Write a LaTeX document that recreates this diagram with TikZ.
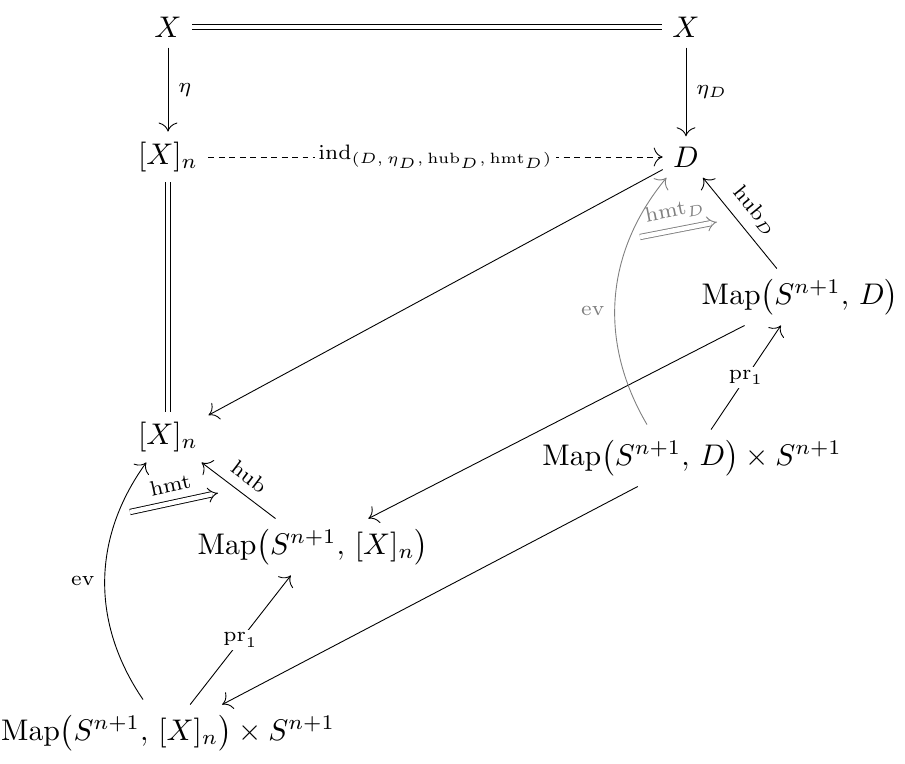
\documentclass[tikz,border=0pt]{standalone}
\usepackage{amsmath}
\usetikzlibrary{arrows.meta}
\begin{document}
\begin{tikzpicture}[x=0.335pt,y=-0.335pt,
  ar/.style={-{To[length=3pt]},line width=0.3pt},
  dbl/.style={double,double distance=1.5pt,line width=0.3pt},
  dblar/.style={double,double distance=1.5pt,line width=0.3pt,-{Implies}},
  lb/.style={font=\scriptsize,fill=white,inner sep=1pt}]
\useasboundingbox (0,0) rectangle (905,764);
\node (X1) at (168,27) {$X$};
\node (X2) at (686,27) {$X$};
\node (Xn) at (168,157) {$[X]_n$};
\node (D) at (686,157) {$D$};
\node (Xn2) at (168,437) {$[X]_n$};
\node (MD) at (800,297) {$\operatorname{Map}\bigl(S^{n+1},\,D\bigr)$};
\node (MDS) at (692,458) {$\operatorname{Map}\bigl(S^{n+1},\,D\bigr)\times S^{n+1}$};
\node (MX) at (313,547) {$\operatorname{Map}\bigl(S^{n+1},\,[X]_n\bigr)$};
\node (MXS) at (168,733) {$\operatorname{Map}\bigl(S^{n+1},\,[X]_n\bigr)\times S^{n+1}$};
\draw[dbl] (X1) -- (X2);
\draw[ar] (X1) -- node[right,font=\scriptsize]{$\eta$} (Xn);
\draw[ar] (X2) -- node[right,font=\scriptsize]{$\eta_D$} (D);
\draw[ar,dash pattern=on 2pt off 1.5pt] (Xn) -- node[lb]{$\mathrm{ind}_{(D,\,\eta_D,\,\mathrm{hub}_D,\,\mathrm{hmt}_D)}$} (D);
\draw[dbl] (Xn) -- (Xn2);
\draw[ar] (D) -- (Xn2);
\draw[ar] (MD) -- (MX);
\draw[ar] (MDS) -- (MXS);
\draw[ar] (MD) -- node[sloped,font=\scriptsize,anchor=south]{$\mathrm{hub}_D$} (D);
\draw[ar] (MDS) -- node[lb]{$\mathrm{pr}_1$} (MD);
\draw[ar,gray] (MDS.north) ++(-45,-5) coordinate (e1) to[bend left=35] node[left,font=\scriptsize,pos=0.45]{ev} (D);
\draw[dblar,gray] (640,237) -- node[above,sloped,font=\scriptsize]{$\mathrm{hmt}_D$} (717,222);
\draw[ar] (MX) -- node[sloped,font=\scriptsize,anchor=south]{$\mathrm{hub}$} (Xn2);
\draw[ar] (MXS) -- node[lb]{$\mathrm{pr}_1$} (MX);
\draw[ar] (MXS.north) ++(-25,-5) coordinate (e2) to[bend left=35] node[left,font=\scriptsize]{ev} (Xn2);
\draw[dblar] (130,512) -- node[above,sloped,font=\scriptsize]{$\mathrm{hmt}$} (218,493);
\end{tikzpicture}
\end{document}
